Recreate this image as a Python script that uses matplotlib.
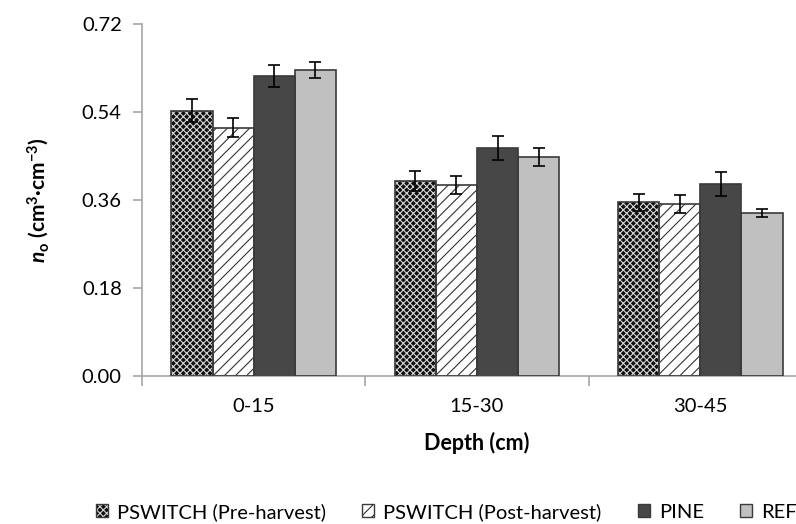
"""
Total porosity by depth for each land use, as grouped bars with error bars.
"""
import matplotlib
matplotlib.use('Agg')
import matplotlib.pyplot as plt
import numpy as np
from matplotlib.patches import Patch
from matplotlib.legend_handler import HandlerTuple

depths = ['0-15', '15-30', '30-45']
series = ['PSWITCH (Pre-harvest)', 'PSWITCH (Post-harvest)', 'PINE', 'REF']

pre_harvest = [0.543, 0.399, 0.355]
post_harvest = [0.508, 0.391, 0.352]
pine = [0.614, 0.466, 0.393]
ref = [0.626, 0.448, 0.333]

pre_err = [0.023, 0.021, 0.018]
post_err = [0.019, 0.019, 0.018]
pine_err = [0.023, 0.025, 0.024]
ref_err = [0.017, 0.019, 0.008]

y_ticks = [0.00, 0.18, 0.36, 0.54, 0.72]

plt.rcParams['font.family'] = ['Lato', 'DejaVu Sans']
plt.rcParams['mathtext.fontset'] = 'custom'
plt.rcParams['mathtext.it'] = 'Lato:italic:bold'
plt.rcParams['mathtext.rm'] = 'Lato:bold'
plt.rcParams['mathtext.bf'] = 'Lato:bold'
plt.rcParams['hatch.linewidth'] = 0.8

# face, hatch colour, hatch pattern for each series
styles = [
    ('#101010', '#d8d8d8', 'xxxxx'),
    ('white', '#333333', '///'),
    ('#474747', None, None),
    ('#c0c0c0', None, None),
]
outline = '#3a3a3a'

fig = plt.figure(figsize=(7.96, 5.24), dpi=100)
ax = fig.add_axes([0.1784, 0.2824, 0.8417, 0.6718])

x = np.arange(len(depths))
width = 0.184
values = [pre_harvest, post_harvest, pine, ref]
errors = [pre_err, post_err, pine_err, ref_err]

handles = []
for i, (vals, errs, (face, hcol, hatch)) in enumerate(zip(values, errors, styles)):
    pos = x + (i - 1.5) * width
    if hatch:
        ax.bar(pos, vals, width, color=face, edgecolor=hcol, hatch=hatch,
               linewidth=0, zorder=2)
    else:
        ax.bar(pos, vals, width, color=face, linewidth=0, zorder=2)
    ax.bar(pos, vals, width, fill=False, edgecolor=outline, linewidth=1.2,
           zorder=3)
    ax.errorbar(pos, vals, yerr=errs, fmt='none', ecolor='black',
                elinewidth=1.2, capsize=4, capthick=1.2, zorder=4)

    fill_patch = Patch(facecolor=face, edgecolor=hcol if hcol else face,
                       hatch=hatch, linewidth=0)
    edge_patch = Patch(fill=False, edgecolor=outline, linewidth=1)
    handles.append((fill_patch, edge_patch))

ax.set_xlim(-0.5, 2.5)
ax.set_ylim(0, 0.72)
ax.set_yticks(y_ticks)
ax.set_yticklabels([f'{t:.2f}' for t in y_ticks])
ax.set_xticks(x)
ax.set_xticklabels(depths)
ax.set_xticks([-0.5, 0.5, 1.5, 2.5], minor=True)

for side in ('top', 'right'):
    ax.spines[side].set_visible(False)
for side in ('left', 'bottom'):
    ax.spines[side].set_color('#a6a6a6')
    ax.spines[side].set_linewidth(1.2)

ax.tick_params(axis='y', which='major', length=6.5, width=1.2, color='#a6a6a6',
               labelsize=14.5, pad=8)
ax.tick_params(axis='x', which='major', length=0, labelsize=14.5, pad=16)
ax.tick_params(axis='x', which='minor', length=7, width=1.2, color='#a6a6a6')

ax.set_xlabel('Depth (cm)', fontsize=15.5, fontweight='bold', labelpad=12)
ax.set_ylabel(r'$n_\mathrm{o}$ (cm$^\mathrm{3}$·cm$^\mathrm{-3}$)',
              fontsize=15, fontweight='bold', labelpad=22)

fig.legend(handles, series, loc='center', bbox_to_anchor=(0.561, 0.023),
           ncol=4, frameon=False, fontsize=14.5, handlelength=0.6,
           handleheight=0.6, handletextpad=0.45, columnspacing=1.8,
           handler_map={tuple: HandlerTuple(ndivide=1, pad=0)})

fig.savefig('out.png', dpi=100)
